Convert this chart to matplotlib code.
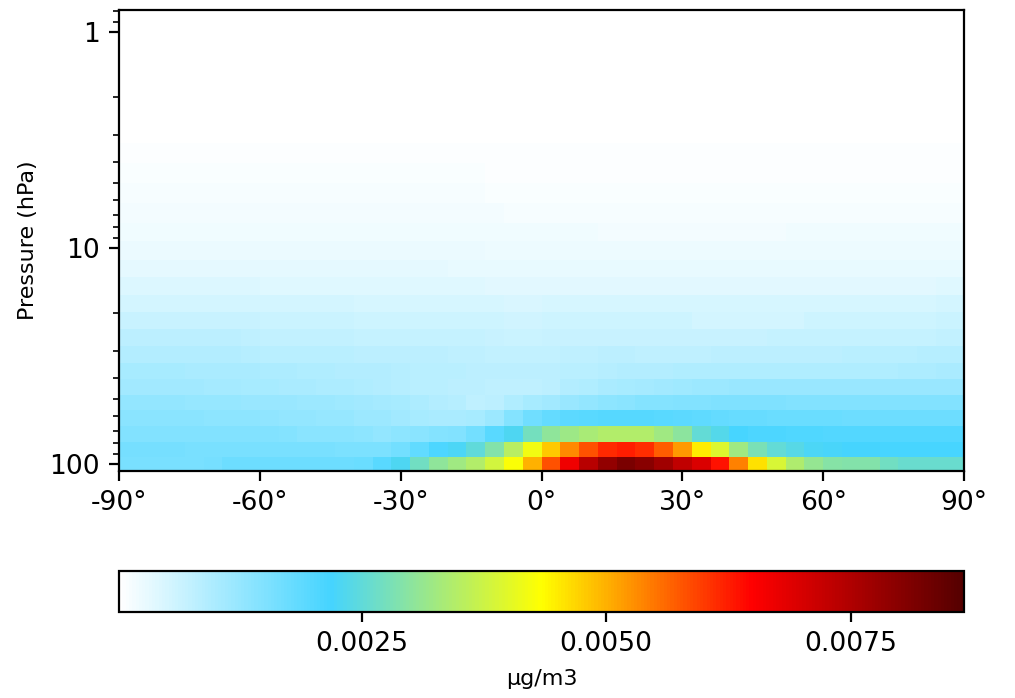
import matplotlib
matplotlib.use('Agg')
import matplotlib.pyplot as plt
import numpy as np
from matplotlib.colors import LinearSegmentedColormap
from matplotlib.ticker import FixedLocator, FixedFormatter, LogLocator, NullFormatter

# latitude cell centres, the two end cells are cut in half by the axes
lat_edges = [-90] + list(range(-88, 89, 4)) + [90]

# pressure cell edges (hPa), bottom to top
pres_edges = [107.7, 92.8, 78.8, 66.5, 56.2, 47.9, 40.4, 34.1, 28.4, 23.7, 19.8,
              16.5, 13.6, 11.4, 9.28, 7.66, 6.19, 5.0, 4.04, 3.26, 2.64, 2.13,
              1.63, 1.28, 1.0, 0.79]

# concentration in 1e-4 ug/m3, one list per pressure level, bottom to top
# each list: -90..-54 / -50..-14 / -10..26 / 30..66 / 70..90
lev00 = [15.8, 15.8, 15.8, 15.8, 16.0, 16.3, 17.2, 17.3, 17.3, 17.3,
         17.3, 17.4, 17.4, 17.6, 19.7, 23.0, 27.0, 30.5, 32.5, 34.5,
         38.0, 43.0, 50.0, 58.0, 67.0, 74.0, 78.5, 81.7, 80.0, 77.0,
         73.0, 69.4, 63.5, 54.0, 46.0, 39.0, 34.0, 31.0, 29.5, 29.0,
         29.0, 27.0, 26.0, 26.0, 26.0, 26.0]
lev01 = [16.2, 16.2, 16.2, 16.2, 16.0, 16.0, 16.0, 16.0, 16.0, 16.0,
         16.0, 16.0, 15.7, 15.7, 15.5, 16.5, 18.5, 21.0, 22.5, 25.0,
         29.0, 35.0, 42.0, 48.0, 53.5, 58.0, 61.5, 62.5, 61.0, 57.0,
         52.0, 45.0, 39.5, 32.5, 28.0, 25.5, 24.0, 22.5, 22.3, 22.0,
         21.8, 21.7, 21.6, 21.6, 21.5, 21.5]
lev02 = [15.0, 15.0, 15.0, 15.0, 15.0, 15.0, 15.0, 15.0, 14.8, 14.5,
         14.0, 14.0, 13.8, 13.5, 13.0, 13.5, 14.0, 14.5, 15.0, 16.5,
         19.5, 23.0, 27.5, 30.5, 32.0, 33.5, 34.5, 34.5, 34.5, 32.5,
         30.0, 25.5, 23.5, 21.7, 21.0, 20.8, 20.6, 20.5, 20.3, 20.3,
         20.2, 20.2, 20.2, 20.2, 20.2, 20.2]
lev03 = [13.9, 13.9, 13.9, 13.8, 13.8, 13.6, 13.6, 13.4, 13.3, 13.0,
         12.8, 12.6, 12.4, 12.0, 11.7, 11.2, 10.6, 10.2, 10.0, 10.5,
         12.0, 14.5, 17.0, 18.2, 19.2, 19.7, 20.0, 20.0, 20.0, 19.7,
         19.3, 18.8, 18.4, 18.0, 17.8, 17.6, 17.6, 17.5, 17.5, 17.4,
         17.4, 17.4, 17.3, 17.3, 17.3, 17.3]
lev04 = [12.8, 12.8, 12.8, 12.7, 12.6, 12.5, 12.4, 12.3, 12.2, 12.2,
         12.0, 11.8, 11.5, 11.2, 10.9, 10.4, 9.9, 9.3, 8.8, 7.8,
         8.0, 9.5, 10.5, 11.2, 12.2, 12.9, 13.4, 14.0, 14.4, 14.6,
         14.8, 15.0, 15.2, 15.2, 15.2, 15.1, 15.0, 15.0, 15.0, 15.0,
         15.0, 15.0, 15.0, 15.0, 15.0, 15.0]
lev05 = [11.2, 11.2, 11.2, 11.0, 11.0, 10.8, 10.7, 10.5, 10.4, 10.3,
         10.1, 9.9, 9.7, 9.4, 9.1, 8.8, 8.5, 8.3, 8.1, 8.0,
         7.8, 7.7, 7.7, 8.0, 9.0, 9.6, 10.1, 10.4, 10.8, 11.1,
         11.5, 11.8, 12.0, 12.1, 12.2, 12.2, 12.2, 12.2, 12.2, 12.2,
         12.2, 12.2, 12.2, 12.2, 12.2, 12.2]
lev06 = [10.5, 10.5, 10.5, 10.5, 10.3, 10.3, 10.1, 10.0, 9.8, 9.8,
         9.6, 9.4, 9.3, 9.1, 9.0, 8.8, 8.6, 8.4, 8.3, 8.2,
         8.1, 8.0, 8.0, 8.1, 8.4, 8.6, 8.8, 9.0, 9.1, 9.3,
         9.4, 9.4, 9.5, 9.5, 9.5, 9.5, 9.5, 9.5, 9.5, 9.5,
         9.6, 9.6, 9.8, 9.8, 10.0, 10.0]
lev07 = [9.3, 9.3, 9.3, 9.3, 9.2, 9.0, 9.0, 8.8, 8.6, 8.5,
         8.5, 8.4, 8.4, 8.2, 8.2, 8.2, 8.0, 8.0, 7.8, 7.8,
         7.6, 7.4, 7.4, 7.6, 7.8, 7.8, 8.0, 8.0, 7.8, 7.8,
         7.8, 7.8, 8.0, 8.0, 8.0, 8.0, 8.0, 8.0, 8.0, 8.3,
         8.3, 8.4, 8.4, 8.8, 8.8, 8.8]
lev08 = [8.2, 8.2, 8.2, 8.2, 8.2, 8.0, 8.0, 7.8, 7.6, 7.6,
         7.4, 7.4, 7.4, 7.2, 7.2, 7.2, 7.0, 7.0, 7.0, 7.0,
         6.8, 6.6, 6.6, 6.8, 6.8, 6.8, 6.8, 6.8, 6.8, 6.8,
         6.8, 6.8, 6.8, 6.8, 6.8, 7.0, 7.0, 7.0, 7.0, 7.0,
         7.2, 7.2, 7.2, 7.2, 7.6, 7.6]
lev09 = [6.8, 6.8, 6.8, 6.8, 6.8, 6.8, 6.8, 6.8, 6.6, 6.6,
         6.4, 6.4, 6.4, 6.2, 6.2, 6.2, 6.2, 6.2, 6.0, 6.0,
         6.0, 5.8, 5.8, 6.0, 6.0, 6.0, 6.0, 6.0, 6.0, 6.0,
         6.0, 5.6, 5.6, 5.6, 5.6, 5.6, 5.6, 6.0, 6.0, 6.0,
         6.0, 6.0, 6.0, 6.2, 6.6, 6.6]
lev10 = [5.6, 5.6, 5.6, 5.6, 5.3, 5.3, 5.3, 5.3, 5.3, 5.3,
         5.5, 5.5, 5.5, 5.2, 5.2, 5.2, 5.2, 5.2, 5.0, 5.0,
         5.0, 4.8, 4.8, 5.0, 5.0, 5.0, 5.0, 5.0, 5.0, 5.0,
         5.0, 5.0, 5.0, 5.0, 5.0, 5.0, 5.0, 5.0, 5.0, 5.0,
         5.0, 5.0, 5.0, 5.2, 5.6, 5.6]
lev11 = [4.4, 4.4, 4.4, 4.4, 4.4, 4.4, 4.4, 4.4, 4.2, 4.2,
         4.2, 4.2, 4.2, 4.2, 4.2, 4.2, 4.2, 4.2, 4.2, 4.2,
         3.7, 3.7, 3.7, 3.9, 3.9, 3.9, 3.9, 3.9, 3.9, 3.9,
         3.9, 3.9, 3.9, 3.9, 3.9, 3.9, 3.9, 3.9, 3.9, 3.9,
         3.9, 3.9, 3.9, 3.9, 4.1, 4.1]
lev12 = [3.5, 3.5, 3.5, 3.5, 3.5, 3.5, 3.5, 3.5, 3.5, 3.5,
         3.5, 3.5, 3.5, 3.5, 3.5, 3.5, 3.5, 3.5, 3.0, 3.0,
         3.0, 3.0, 3.0, 3.0, 3.0, 3.0, 3.0, 3.0, 3.0, 3.0,
         3.0, 3.0, 3.0, 3.0, 3.0, 3.0, 3.0, 3.0, 3.0, 3.0,
         3.0, 3.0, 3.0, 3.0, 3.2, 3.2]
lev13 = [2.7, 2.7, 2.7, 2.7, 2.7, 2.7, 2.7, 2.7, 2.7, 2.7,
         2.7, 2.7, 2.7, 2.7, 2.7, 2.7, 2.7, 2.7, 2.7, 2.7,
         2.3, 2.3, 2.3, 2.3, 2.3, 2.3, 2.3, 2.3, 2.3, 2.3,
         2.3, 2.3, 2.3, 2.3, 2.3, 2.3, 2.3, 2.3, 2.3, 2.3,
         2.3, 2.3, 2.3, 2.3, 2.4, 2.4]
lev14 = [2.1, 2.1, 2.1, 2.1, 2.1, 2.1, 2.1, 2.1, 2.1, 2.1,
         2.1, 2.1, 2.1, 2.1, 2.1, 2.1, 2.1, 2.1, 2.1, 2.1,
         2.1, 2.1, 2.1, 1.9, 1.9, 1.9, 1.8, 1.8, 1.8, 1.8,
         1.8, 1.8, 1.8, 1.8, 1.8, 1.8, 1.9, 1.9, 1.9, 1.9,
         1.9, 1.9, 1.9, 1.9, 1.9, 1.9]
lev15 = [1.8, 1.8, 1.8, 1.8, 1.8, 1.8, 1.8, 1.8, 1.8, 1.8,
         1.8, 1.8, 1.8, 1.8, 1.8, 1.8, 1.8, 1.8, 1.8, 1.8,
         1.8, 1.4, 1.4, 1.4, 1.4, 1.4, 1.4, 1.4, 1.4, 1.4,
         1.4, 1.4, 1.4, 1.4, 1.4, 1.4, 1.4, 1.4, 1.4, 1.4,
         1.4, 1.4, 1.4, 1.4, 1.4, 1.4]
lev16 = [1.4, 1.4, 1.4, 1.4, 1.4, 1.4, 1.4, 1.4, 1.4, 1.4,
         1.4, 1.4, 1.4, 1.4, 1.4, 1.4, 1.4, 1.4, 1.4, 1.4,
         1.1, 1.1, 1.1, 1.1, 1.1, 1.1, 1.1, 1.1, 1.1, 1.1,
         1.1, 1.1, 1.1, 1.1, 1.1, 1.1, 1.1, 1.1, 1.1, 1.1,
         1.1, 1.1, 1.1, 1.1, 1.1, 1.1]
lev17 = [1.1, 1.1, 1.1, 1.1, 1.1, 1.1, 1.1, 1.1, 1.1, 1.1,
         1.1, 1.1, 1.1, 1.1, 1.1, 1.1, 1.1, 1.1, 1.1, 1.1,
         0.8, 0.8, 0.8, 0.8, 0.8, 0.8, 0.8, 0.8, 0.8, 0.8,
         0.8, 0.8, 0.8, 0.8, 0.8, 0.8, 0.8, 0.8, 0.8, 0.8,
         0.8, 0.8, 0.8, 0.8, 0.8, 0.8]
lev18 = [0.7, 0.7, 0.7, 0.7, 0.7, 0.7, 0.7, 0.7, 0.7, 0.7,
         0.7, 0.7, 0.7, 0.7, 0.6, 0.6, 0.6, 0.6, 0.6, 0.6,
         0.6, 0.6, 0.6, 0.6, 0.6, 0.6, 0.6, 0.6, 0.6, 0.6,
         0.6, 0.6, 0.6, 0.6, 0.6, 0.6, 0.6, 0.6, 0.6, 0.6,
         0.6, 0.6, 0.6, 0.6, 0.6, 0.6]
lev19 = [0.35] * 46
lev20 = [0.2] * 46
lev21 = [0.1] * 46
lev22 = [0.05] * 46
lev23 = [0.04] * 46
lev24 = [0.03] * 46

levels = [lev00, lev01, lev02, lev03, lev04, lev05, lev06, lev07, lev08, lev09,
          lev10, lev11, lev12, lev13, lev14, lev15, lev16, lev17, lev18, lev19,
          lev20, lev21, lev22, lev23, lev24]

lat_ticks = [-90, -60, -30, 0, 30, 60, 90]
lat_labels = ['-90°', '-60°', '-30°', '0°', '30°', '60°', '90°']
pres_ticks = [1, 10, 100]
pres_labels = ['1', '10', '100']
cbar_ticks = [0.0025, 0.0050, 0.0075]

vmin = 0.00002
vmax = 0.00866
conc = np.array(levels) * 1e-4

cmap = LinearSegmentedColormap.from_list(
    'white_jet', ['#ffffff', '#45d4ff', '#ffff00', '#ff0000', '#550000'], N=256)

W, H = 1015, 698
fig = plt.figure(figsize=(W / 200, H / 200), dpi=200)
ax = fig.add_axes([119 / W, 1 - 471 / H, 845 / W, 461 / H])

mesh = ax.pcolormesh(lat_edges, pres_edges, conc, cmap=cmap, vmin=vmin, vmax=vmax,
                     shading='flat', rasterized=True)
ax.set_yscale('log')
ax.set_ylim(107.7, 0.79)
ax.set_xlim(-90, 90)
ax.set_xticks(lat_ticks)
ax.set_xticklabels(lat_labels)
ax.yaxis.set_major_locator(FixedLocator(pres_ticks))
ax.yaxis.set_major_formatter(FixedFormatter(pres_labels))
ax.yaxis.set_minor_locator(LogLocator(base=10, subs=np.arange(2, 10), numticks=12))
ax.yaxis.set_minor_formatter(NullFormatter())
ax.tick_params(labelsize=9.6)
ax.set_ylabel('Pressure (hPa)', fontsize=8)

cax = fig.add_axes([119 / W, 1 - 612 / H, 845 / W, 41 / H])
cbar = fig.colorbar(mesh, cax=cax, orientation='horizontal')
cbar.set_ticks(cbar_ticks)
cbar.set_ticklabels(['0.0025', '0.0050', '0.0075'])
cbar.minorticks_off()
cax.tick_params(labelsize=9.6)
cbar.set_label('µg/m3', fontsize=8)

fig.savefig('out.png', dpi=200)
